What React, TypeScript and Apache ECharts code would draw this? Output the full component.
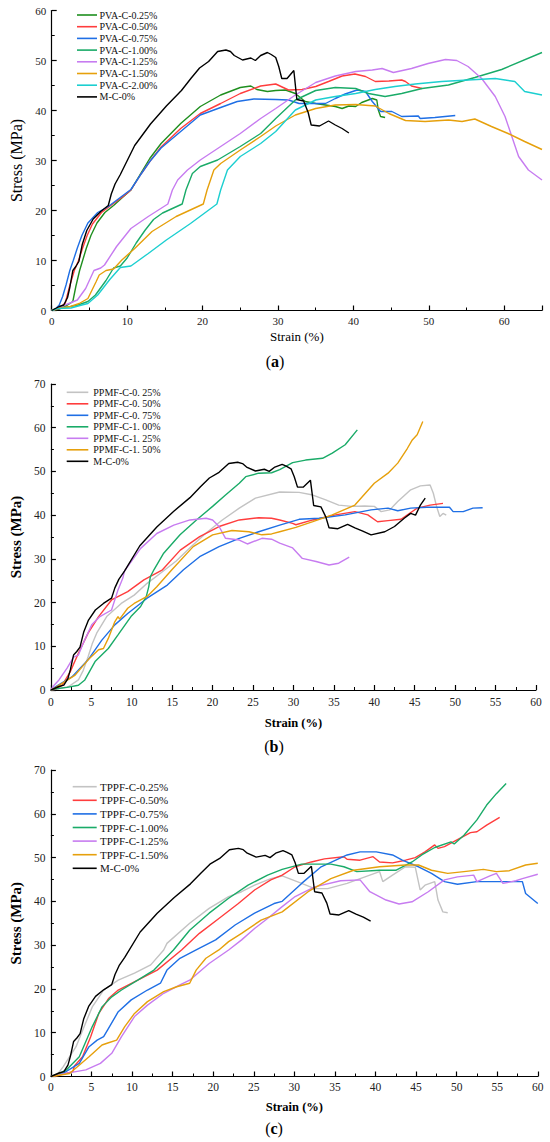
import React, { useEffect, useRef } from 'react';
import * as echarts from 'echarts';

const FONT = "'Liberation Serif', 'Times New Roman', serif";

// ---------- colours ----------
const C_DGREEN = '#1f8f1f';
const C_RED = '#ff3d3d';
const C_BLUE = '#1f6fe5';
const C_GREEN = '#1aab68';
const C_VIOLET = '#c77cf0';
const C_ORANGE = '#e6a00c';
const C_CYAN = '#1ccfd0';
const C_GRAY = '#c3c3c3';
const C_BLACK = '#000000';

// ---------- control mix M-C-0% (strain %, stress MPa) ----------
const mc0Base: number[][] = [[0,0],[1,0.8],[1.6,1.1],[2.1,2.6],[2.4,4.6],[2.8,8],[3.2,8.8],[3.6,9.8],[4.05,13.2],[4.65,16],[5.5,18.3],[6.5,19.8],[7.5,21],[7.9,23.3],[8.4,25.3],[9.1,27.2],[11,33],[13.1,37.3],[15.2,40.9],[17.2,44],[18.5,46.5],[19.6,48.5],[20.8,49.8],[22,51.8],[23.1,52.1],[23.7,51.8],[24.2,51],[25.3,50.1],[26.4,50.5],[27,50],[27.7,51],[28.6,51.6],[29.1,51.2],[29.7,50.6],[30.1,48.8],[30.5,46.4],[31.2,46.4],[32.1,48],[32.5,42.2],[33.4,41.9],[34,39.6],[34.4,37.1],[35.5,36.9],[36.7,37.9],[37.6,37.1],[38.5,36.4]];
const mc0EndAC: number[][] = [[39.4,35.5]];
const mc0TailB: number[][] = [[39.6,35.5],[41.3,36.2],[42.5,37.4],[43.7,39.3],[44.5,40.4],[45.1,40],[45.7,42.3],[46.3,43.9]];

// ---------- panel (a) PVA ----------
const pva025: number[][] = [[0,0],[1,0.3],[2,1],[2.8,1.8],[3.2,4.8],[3.7,8],[4.1,10],[4.6,12.5],[5.2,15],[6,17.5],[7.05,19.6],[8.2,21],[9.3,22.5],[10.5,24.1],[11.8,27.4],[13,30.4],[14.5,33.4],[17.1,37.4],[19.7,40.8],[22.4,43.1],[25,44.6],[26.4,44.9],[27.2,44.2],[28.6,43.8],[29.7,44],[31,44.1],[32.3,43.4],[33.6,41.8],[35,41.4],[36.3,41.1],[37.6,40.8],[38.5,40.4],[39.4,40.9],[40.3,40.8],[41.1,41.6],[42.5,42.4],[43.1,42.1],[43.3,40.1],[43.6,38.8],[44.2,38.6]];
const pva050: number[][] = [[0,0],[1,0.4],[1.8,1.5],[2.4,5],[3,8],[3.56,10],[4.1,12.5],[4.7,15],[5.4,17.3],[6.6,19.6],[8,21.2],[9.3,22.6],[10.5,24.1],[11.8,27.2],[13,29.8],[14.5,32.7],[17.1,36.4],[19.7,39.4],[22.4,41.4],[25,43.4],[27.7,44.9],[29.7,45.3],[31.4,44.1],[33.2,44.2],[35,44.8],[36.7,45.8],[38.5,46.9],[40.2,47.3],[41.6,46.8],[42.9,45.8],[44.7,45.9],[46.4,46.1],[46.9,45.8],[47.7,44.9],[49.1,44.4]];
const pva075: number[][] = [[0,0],[0.5,0.3],[1,1.1],[1.45,2.8],[1.9,5.1],[2.4,8],[2.86,10],[3.4,12.5],[4,15],[4.8,17.5],[6.1,19.6],[7.5,20.8],[9,22.5],[10.5,24.2],[11.8,27.2],[13,29.8],[14.5,32.5],[17.1,35.8],[19.7,39.1],[22.4,40.6],[24.6,41.8],[26.8,42.3],[29.7,42.2],[31.4,42.1],[32.8,41.4],[34.5,41.4],[36.3,41.4],[37.6,42.4],[38.9,43.3],[40.5,44.1],[41.6,43.8],[42.5,41.8],[43.6,39.8],[45.1,39.8],[46.4,38.8],[48.6,38.9],[48.85,38.4],[50.8,38.6],[53.5,39]];
const pva100: number[][] = [[0,0],[0.7,0.4],[2.5,0.8],[3.5,1.1],[4.8,1.8],[5.8,3.1],[7.2,6],[8.2,8.5],[9.1,8.9],[10,10.5],[11.2,13.5],[12.4,16.1],[13.5,18.2],[14.7,19.5],[16,20.4],[17.3,21.3],[17.8,24.1],[18.65,27.4],[19.7,28.8],[22,30.1],[25,32.8],[27.7,35.4],[29.7,38.4],[32.3,42.1],[35,44],[37.6,44.6],[40.3,44.4],[42,43.4],[44.2,42.8],[46.4,43.4],[49.1,44.4],[52.6,45.1],[56.1,46.6],[59.65,48.2],[65,51.6]];
const pva125: number[][] = [[0,0],[0.7,0.43],[2.6,1.6],[3.4,2.1],[4.5,4.4],[5.6,8],[6.5,8.5],[7,9.1],[8.6,12.8],[10.5,16.4],[12.8,18.8],[15.4,21.3],[16,24.1],[16.7,26.1],[18,28.1],[19.7,30.1],[22.4,32.8],[25,35.4],[27.7,38.4],[29.7,40.4],[32.3,43.1],[35,45.6],[37.6,46.9],[40.3,47.8],[42.5,48.1],[43.8,48.4],[45.3,47.6],[47.7,48.4],[49.9,49.4],[52.2,50.2],[53.7,50],[55.2,48.8],[57,46.4],[58.8,42.8],[60.1,38.8],[61,34.8],[61.9,30.8],[63.2,28.1],[65,26.1]];
const pva150: number[][] = [[0,0],[0.7,0.4],[2.5,0.8],[3.65,1.4],[4.8,2.4],[5.9,5.8],[6.3,7.1],[7.2,8],[8.2,8.3],[9.3,10.1],[11,12.4],[13.3,15.8],[16.5,18.8],[20.1,21.3],[20.6,24.1],[21.5,28.1],[22.4,29.4],[25,32.1],[27.7,34.8],[29.7,36.9],[32.3,39.1],[35,40.4],[37.6,41.1],[40.3,41.2],[42.9,40.9],[44.7,39.4],[46.9,38],[49.5,37.8],[52.6,38.1],[54.4,37.8],[56.1,38.3],[58.3,36.8],[60.5,35.4],[62.7,33.8],[65,32.2]];
const pva200: number[][] = [[0,0],[0.7,0.4],[2.55,0.5],[4,1.1],[4.8,1.4],[6.1,3.1],[7.7,6.2],[9.1,8.6],[10.5,8.9],[12.8,11.4],[15.2,14.1],[18.4,17.4],[21.9,21.3],[22.4,24.1],[23.3,28.1],[25,30.8],[27.7,33.4],[29.7,35.8],[32.3,40.1],[35,42.1],[37.6,42.8],[40.3,43.4],[42.9,44.2],[45.5,44.8],[48.2,45.3],[51.7,45.8],[55.2,46.1],[58.8,46.4],[61.4,45.8],[62.7,43.8],[65,43.1]];

// ---------- panel (b) PPMF ----------
const ppmf025: number[][] = [[0,0],[1,0.3],[2.2,0.8],[3.4,2.3],[4,4.5],[4.6,7.6],[5.1,10.5],[5.66,13],[6.9,16.8],[8.7,19.8],[10.3,21.7],[11.9,24.4],[13.55,26.7],[15.5,29.5],[17.3,32.7],[19.2,35.9],[21.2,38.9],[23.3,41.6],[25.3,43.9],[28.3,45.3],[30.7,45.2],[32.4,44.6],[34,43.5],[35.6,42.3],[37.2,42],[38.8,42.1],[40,42],[40.85,40.8],[41.9,41.2],[42.9,43.1],[44.5,45.8],[45.7,46.7],[46.9,46.9],[47.3,45],[47.7,42],[48.1,39.7],[48.5,40.4],[48.9,40]];
const ppmf050: number[][] = [[0,0],[0.8,0.4],[1.4,1.1],[2.4,4.2],[3.4,8.4],[4.6,13],[5.9,16.8],[7.5,20.6],[9.5,22.5],[11.5,25.2],[13.8,27.5],[16,32],[18.4,35.1],[20.8,37.4],[23.3,38.9],[25.7,39.4],[27.3,39.3],[28.3,38.9],[29.9,38.1],[30.3,37.8],[32.4,38.9],[35.2,40.05],[37.6,40.8],[39.2,40.05],[40.4,38.5],[41.7,38.75],[43.3,39.05],[45.3,41.6],[46.9,42.3],[48.5,42.7]];
const ppmf075: number[][] = [[0,0],[0.6,0.8],[2.6,3],[4.6,6.9],[6.3,11.4],[7.9,14.9],[9.5,17.5],[11.9,21],[14.4,24],[16.4,27.5],[18.4,30.5],[20.8,32.8],[23.3,34.7],[25.7,36.2],[28.3,37.7],[30.7,39.05],[33.2,39.3],[36.4,40.05],[39.6,41.2],[41.7,41.6],[42.9,41],[44.5,41.6],[46.5,41.8],[49.3,41.8],[49.75,40.8],[51,40.8],[52.2,41.6],[53.4,41.7]];
const ppmf100: number[][] = [[0,0],[0.6,0.3],[2,0.6],[3.4,1.1],[4.2,2.3],[5.46,6.5],[6.5,8.4],[7.1,9.5],[8.3,12.6],[9.9,16.8],[11.1,19.1],[11.8,21.4],[12.1,23.6],[12.3,25.9],[12.74,27.5],[13.95,31.3],[15.97,35.5],[18,38.9],[20,42],[21.6,44.6],[23.3,47.3],[24.1,48.8],[25.7,49.6],[27.3,49.7],[28.3,50.4],[29.9,52],[31.5,52.6],[33.6,53],[34.8,54.2],[36.4,56.1],[37.9,59.5]];
const ppmf125: number[][] = [[0,0],[0.4,1.1],[1,2.3],[2,5],[2.8,7.5],[3.4,8],[4,10.7],[5.05,14.9],[6.06,16.8],[7.5,18.3],[8.3,22.9],[8.9,25.6],[9.1,27.2],[11.1,32.4],[13.1,35.8],[15.2,37.7],[17.2,38.9],[19.2,39.3],[20,38.9],[20.8,37.4],[21.6,34.7],[23.3,34.3],[24.3,33.4],[26.1,34.7],[27.3,34.5],[28.3,33.6],[29.9,32.5],[31.1,30.1],[32.8,29.4],[34.4,28.6],[35.6,29],[36.9,30.4]];
const ppmf150: number[][] = [[0,0],[0.6,0.6],[3,3.4],[4.6,6.9],[5.9,9.2],[6.5,9.5],[7.1,11.8],[7.9,15.6],[8.3,16.8],[8.5,16.2],[9.5,18.7],[10.3,19.8],[11.9,21.4],[13.1,23.6],[14.96,27.5],[17.6,32.8],[20,35.5],[22.4,36.5],[24.5,36.2],[26.1,35.5],[27.3,35.7],[28.3,36.2],[30.3,37.2],[32.4,38.5],[34.8,40.05],[37.6,42.3],[40,47.3],[41.7,49.6],[42.9,51.9],[44.1,55.3],[44.7,57.2],[45.3,58.4],[46,61.4]];

// ---------- panel (c) TPPF ----------
const tppf025: number[][] = [[0,0],[0.8,0.5],[1.5,2.2],[3.1,6.8],[4.1,11.4],[5.1,15.9],[6.5,19.75],[8.3,22],[10.3,23.6],[12.3,25.5],[13.9,28.9],[14.3,30.4],[17.1,35],[19.5,38.4],[21.9,41.1],[23.5,42.2],[25.1,43.7],[27.1,45.2],[28.5,45.8],[30.9,44.1],[32.5,42.9],[34.1,42.9],[36.5,44.1],[39.3,46],[40.5,46.8],[40.9,44.5],[42.1,46],[43.7,47.9],[44.9,47.8],[45.5,42.6],[46.1,43.7],[47.3,44.5],[47.7,40.3],[48.3,37.6],[48.9,37.4]];
const tppf050: number[][] = [[0,0],[1,0.3],[2.7,1.1],[2.9,2.4],[3.9,4.5],[4.9,9.1],[5.9,14.4],[7.1,17.8],[8.3,19.75],[10.7,22],[13.1,24.3],[16.1,28.9],[18.3,32.7],[20.7,36.1],[23.1,39.5],[25.1,42.6],[27.1,44.9],[28.5,46],[30.1,47.9],[32.1,49],[33.7,49.7],[36.1,50.2],[36.5,49.6],[38.1,49.4],[39.7,50.2],[40.5,49],[42.1,48.8],[43.7,49.4],[44.9,50],[46.1,51.3],[47.3,52.9],[47.7,52.1],[48.5,52.5],[50.1,54.1],[51.7,55.7],[52.5,55.9],[53.7,57.4],[55.3,59.2]];
const tppf075: number[][] = [[0,0],[1.5,0.7],[3.5,3],[4.7,6.8],[5.7,8.3],[6.5,9.1],[7.1,11],[8.3,14.8],[9.9,17.5],[11.9,19.75],[13.5,21.3],[14.3,24.3],[15.9,27],[17.9,28.9],[20.3,31.2],[22.7,34.6],[25.1,37.3],[27.5,39.5],[28.5,40],[30.9,44.1],[33.3,47.9],[36.5,50.6],[38.1,51.3],[40.1,51.3],[42.1,50.6],[43.3,49.4],[45.3,47.9],[46.9,46.4],[48.5,44.5],[50.1,43.9],[52.5,44.5],[55.7,44.5],[58.1,44.5],[58.5,41.8],[60,39.5]];
const tppf100: number[][] = [[0,0],[1,0.6],[1.9,1.5],[3.5,4.5],[5.1,11.4],[6.3,15.9],[7.5,18.2],[8.7,19.75],[10.7,22],[12.7,24.3],[15.1,28.9],[17.1,33.4],[19.5,37.3],[21.9,40.7],[24.3,43.7],[26.7,46],[28.5,47.3],[30.9,48.5],[34.5,48.5],[36.1,47.9],[37.7,46.8],[40.5,47.1],[42.5,47.1],[44.5,49],[45.7,50.6],[47.3,52.3],[49.3,53.6],[49.7,53.1],[50.9,55.1],[52.5,58.6],[53.7,62],[54.9,64.6],[56.1,66.9]];
const tppf125: number[][] = [[0,0],[1.5,0.6],[4.3,1.5],[6.1,3],[7.5,5.3],[8.7,9.1],[10.3,13.7],[11.9,16.3],[13.9,19],[15.9,20.9],[17.1,22],[19.5,25.8],[21.9,28.9],[23.5,31.2],[25.1,33.8],[26.7,36.1],[28.5,38.8],[30.1,41.1],[32.5,43.3],[35.7,44.7],[38.1,44.9],[39.3,42.2],[41.3,40.3],[42.9,39.4],[44.5,39.9],[46.5,42.2],[48.5,44.9],[50.1,45.6],[52.1,46],[52.5,44.5],[54.1,45.8],[54.9,46.4],[55.7,44.1],[57.3,44.7],[58.1,45.2],[60,46.2]];
const tppf150: number[][] = [[0,0],[1,0.3],[2.3,0.7],[4.7,4.5],[6.3,7.2],[7.1,7.7],[8.1,8.3],[9.1,11.4],[10.3,14.4],[11.9,17.1],[13.9,19.4],[15.5,20.5],[17.1,21.3],[17.9,24.3],[19.1,27],[20.7,28.9],[21.9,30.8],[23.5,32.7],[25.9,35.7],[28.5,37.6],[31.7,42.2],[34.5,45.2],[37.3,47.1],[40.5,47.9],[43.7,48.3],[45.3,48.3],[46.9,47.1],[48.9,46.4],[50.9,46.8],[53.3,47.3],[54.9,46.8],[56.5,47],[58.5,48.3],[60,48.7]];

// ---------- names & colours per panel ----------
const namesA = ['PVA-C-0.25%','PVA-C-0.50%','PVA-C-0.75%','PVA-C-1.00%','PVA-C-1.25%','PVA-C-1.50%','PVA-C-2.00%','M-C-0%'];
const colorsA = [C_DGREEN, C_RED, C_BLUE, C_GREEN, C_VIOLET, C_ORANGE, C_CYAN, C_BLACK];
const namesB = ['PPMF-C-0. 25%','PPMF-C-0. 50%','PPMF-C-0. 75%','PPMF-C-1. 00%','PPMF-C-1. 25%','PPMF-C-1. 50%','M-C-0%'];
const colorsB = [C_GRAY, C_RED, C_BLUE, C_GREEN, C_VIOLET, C_ORANGE, C_BLACK];
const namesC = ['TPPF-C-0.25%','TPPF-C-0.50%','TPPF-C-0.75%','TPPF-C-1.00%','TPPF-C-1.25%','TPPF-C-1.50%','M-C-0%'];
const colorsC = [C_GRAY, C_RED, C_BLUE, C_GREEN, C_VIOLET, C_ORANGE, C_BLACK];

function line(name: string, data: number[][], color: string, idx: number, z = 2) {
  return {
    type: 'line', name, data, xAxisIndex: idx, yAxisIndex: idx,
    symbol: 'none', showSymbol: false, smooth: false, clip: true, z,
    lineStyle: { color, width: 1.4 }, itemStyle: { color },
  };
}

const axisLineStyle = { color: '#000', width: 1.2 };

function xAxis(idx: number, max: number, interval: number, nameGap: number, nameFont: any, labelFont: number, labelMargin: number, hideAbove: number) {
  return {
    type: 'value', gridIndex: idx, min: 0, max, interval,
    name: 'Strain (%)', nameLocation: 'middle', nameGap,
    nameTextStyle: { fontFamily: FONT, color: '#000', fontWeight: 'normal', ...nameFont },
    axisLine: { show: true, onZero: false, lineStyle: axisLineStyle },
    axisTick: { show: true, inside: true, length: 5, lineStyle: axisLineStyle },
    minorTick: { show: true, splitNumber: 2, length: 3, lineStyle: { color: '#000', width: 1 } },
    splitLine: { show: false },
    axisLabel: {
      fontFamily: FONT, fontSize: labelFont, color: '#222', margin: labelMargin,
      formatter: (v: number) => (v > hideAbove ? '' : String(v)),
    },
  };
}

function yAxis(idx: number, max: number, nameGap: number, nameFont: any, labelFont: number) {
  return {
    type: 'value', gridIndex: idx, min: 0, max, interval: 10,
    name: 'Stress (MPa)', nameLocation: 'middle', nameGap,
    nameTextStyle: { fontFamily: FONT, color: '#000', fontWeight: 'normal', ...nameFont },
    axisLine: { show: true, onZero: false, lineStyle: axisLineStyle },
    axisTick: { show: true, inside: true, length: 5, lineStyle: axisLineStyle },
    minorTick: { show: true, splitNumber: 2, length: 3, lineStyle: { color: '#000', width: 1 } },
    splitLine: { show: false },
    axisLabel: { fontFamily: FONT, fontSize: labelFont, color: '#222', margin: 5.5 },
  };
}

// legend drawn as graphic keys: short line + label per row
function legendGraphic(names: string[], colors: string[], x1: number, x2: number, tx: number, y0: number, dy: number, fs: number) {
  const els: any[] = [];
  names.forEach((n, i) => {
    const y = y0 + i * dy;
    els.push({ type: 'line', z: 10, shape: { x1, y1: y, x2, y2: y }, style: { stroke: colors[i], lineWidth: 1.6 } });
    els.push({
      type: 'text', z: 10, x: tx, y,
      style: { text: n, fontFamily: FONT, fontSize: fs, fill: '#111', align: 'left', verticalAlign: 'middle' },
    });
  });
  return els;
}

function panelLabel(letter: string, x: number, y: number) {
  return {
    type: 'text', x, y, z: 10,
    style: {
      text: '({b|' + letter + '})', fontFamily: FONT, fontSize: 16, fill: '#000',
      align: 'center', verticalAlign: 'middle',
      rich: { b: { fontFamily: FONT, fontSize: 16, fontWeight: 'bold', fill: '#000' } },
    },
  };
}

const option = {
  animation: false,
  backgroundColor: '#fff',
  grid: [
    { left: 50.7, top: 10.5, width: 491.3, height: 300 },
    { left: 41.7, top: 384, width: 494.3, height: 306 },
    { left: 37.3, top: 770, width: 500.5, height: 306.5 },
  ],
  xAxis: [
    xAxis(0, 65, 10, 19.7, { fontSize: 13 }, 11, 4.7, 60),
    xAxis(1, 60, 5, 26, { fontSize: 12.5, fontWeight: 'bold' }, 11.5, 6, 60),
    xAxis(2, 60, 5, 24, { fontSize: 12.5, fontWeight: 'bold' }, 11.5, 4.5, 60),
  ],
  yAxis: [
    yAxis(0, 60, 27.7, { fontSize: 16 }, 11),
    yAxis(1, 70, 20.8, { fontSize: 15, fontWeight: 'bold' }, 11.5),
    yAxis(2, 70, 19, { fontSize: 15, fontWeight: 'bold' }, 11.5),
  ],
  graphic: [
    ...legendGraphic(namesA, colorsA, 77, 97, 99.5, 15, 11.7, 10),
    ...legendGraphic(namesB, colorsB, 66.7, 88.3, 93.3, 392.3, 11.5, 10),
    ...legendGraphic(namesC, colorsC, 72.7, 96.7, 100, 786.7, 13.6, 11),
    panelLabel('a', 275, 361.7),
    panelLabel('b', 274, 746.7),
    panelLabel('c', 274, 1128),
  ],
  series: [
    line(namesA[0], pva025, C_DGREEN, 0),
    line(namesA[1], pva050, C_RED, 0),
    line(namesA[2], pva075, C_BLUE, 0),
    line(namesA[3], pva100, C_GREEN, 0),
    line(namesA[4], pva125, C_VIOLET, 0),
    line(namesA[5], pva150, C_ORANGE, 0),
    line(namesA[6], pva200, C_CYAN, 0),
    line('M-C-0%', mc0Base.concat(mc0EndAC), C_BLACK, 0, 3),

    line(namesB[0], ppmf025, C_GRAY, 1),
    line(namesB[1], ppmf050, C_RED, 1),
    line(namesB[2], ppmf075, C_BLUE, 1),
    line(namesB[3], ppmf100, C_GREEN, 1),
    line(namesB[4], ppmf125, C_VIOLET, 1),
    line(namesB[5], ppmf150, C_ORANGE, 1),
    line('M-C-0%', mc0Base.concat(mc0TailB), C_BLACK, 1, 3),

    line(namesC[0], tppf025, C_GRAY, 2),
    line(namesC[1], tppf050, C_RED, 2),
    line(namesC[2], tppf075, C_BLUE, 2),
    line(namesC[3], tppf100, C_GREEN, 2),
    line(namesC[4], tppf125, C_VIOLET, 2),
    line(namesC[5], tppf150, C_ORANGE, 2),
    line('M-C-0%', mc0Base.concat(mc0EndAC), C_BLACK, 2, 3),
  ],
};

export default function App() {
  const ref = useRef<HTMLDivElement>(null);
  useEffect(() => {
    if (!ref.current) return;
    const chart = echarts.init(ref.current, null, { renderer: 'svg' });
    chart.setOption(option as any);
    return () => chart.dispose();
  }, []);
  return (
    <div
      ref={ref}
      style={{ position: 'absolute', left: 0, top: 0, width: 550, height: 1142, background: '#fff' }}
    />
  );
}
